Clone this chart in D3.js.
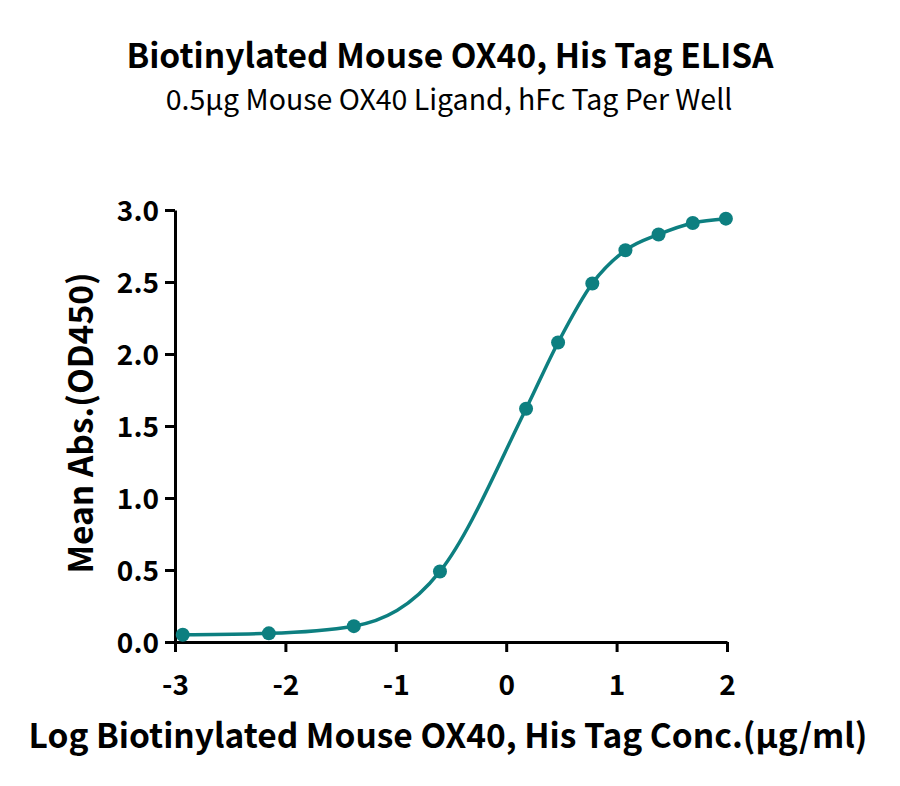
<!DOCTYPE html>
<html>
<head>
<meta charset="UTF-8">
<script src="https://d3js.org/d3.v7.min.js"></script>
<style>
  body{margin:0;background:#fff}
  svg{display:block}
  text{font-family:"Noto Sans CJK SC","Noto Sans",sans-serif}
</style>
</head>
<body>
<div id="chart"></div>
<script>
/* --- данные --- */
const logConc=[-2.93,-2.15,-1.38,-0.6,0.18,0.47,0.78,1.08,1.38,1.69,1.99];
const meanAbs=[0.05,0.06,0.11,0.49,1.62,2.08,2.49,2.72,2.83,2.91,2.94];
const xTicks=[-3,-2,-1,0,1,2];
const yTicks=[0,0.5,1,1.5,2,2.5,3];

const titleText="Biotinylated Mouse OX40, His Tag ELISA",
      subText="0.5μg Mouse OX40 Ligand, hFc Tag Per Well",
      xLabel="Log Biotinylated Mouse OX40, His Tag Conc.(μg/ml)",
      yLabel="Mean Abs.(OD450)";

const W=900,H=786,teal="#0d7f80";
const m={left:175,right:173,top:210,bottom:144};

const svg=d3.select("#chart").append("svg").attr("width",W).attr("height",H);

const x=d3.scaleLinear().domain([-3,2]).range([m.left,W-m.right]);
const y=d3.scaleLinear().domain([0,3]).range([H-m.bottom,m.top]);

/* --- заголовки --- */
svg.append("text").attr("x",450).attr("y",68).attr("text-anchor","middle")
   .attr("font-size",33.5).attr("font-weight",700).text(titleText);
svg.append("text").attr("x",449).attr("y",110).attr("text-anchor","middle")
   .attr("font-size",28.5).attr("font-weight",400).text(subText);

/* --- оси --- */
const gx=svg.append("g").attr("transform",`translate(0,${H-m.bottom})`)
  .call(d3.axisBottom(x).tickValues(xTicks).tickSize(10).tickSizeOuter(0).tickFormat(d=>String(d)));
const gy=svg.append("g").attr("transform",`translate(${m.left},0)`)
  .call(d3.axisLeft(y).tickValues(yTicks).tickSize(10).tickSizeOuter(0).tickPadding(6).tickFormat(d3.format(".1f")));
[gx,gy].forEach(g=>{
  g.select(".domain").attr("stroke","#000").attr("stroke-width",3);
  g.selectAll(".tick line").attr("stroke","#000").attr("stroke-width",3);
  g.selectAll(".tick text").attr("fill","#000").attr("font-size",28).attr("font-weight",700)
   .attr("font-family",'"Noto Sans CJK SC","Noto Sans",sans-serif');
});
gx.selectAll(".tick text").attr("y",53).attr("dy",0);
gy.selectAll(".tick text").attr("dy","0.36em");

/* --- подписи осей --- */
svg.append("text").attr("x",448).attr("y",748).attr("text-anchor","middle")
   .attr("font-size",33.5).attr("font-weight",700).text(xLabel);
svg.append("text").attr("transform","translate(93,423) rotate(-90)")
   .attr("text-anchor","middle").attr("font-size",33.5).attr("font-weight",700).text(yLabel);

/* --- кривая и точки --- */
const pts=logConc.map((v,i)=>[v,meanAbs[i]]);
svg.append("path").datum(pts)
   .attr("fill","none").attr("stroke",teal).attr("stroke-width",3.5)
   .attr("d",d3.line().x(d=>x(d[0])).y(d=>y(d[1])).curve(d3.curveMonotoneX));
svg.selectAll("circle.pt").data(pts).join("circle").attr("class","pt")
   .attr("cx",d=>x(d[0])).attr("cy",d=>y(d[1])).attr("r",7).attr("fill",teal);
</script>
</body>
</html>
